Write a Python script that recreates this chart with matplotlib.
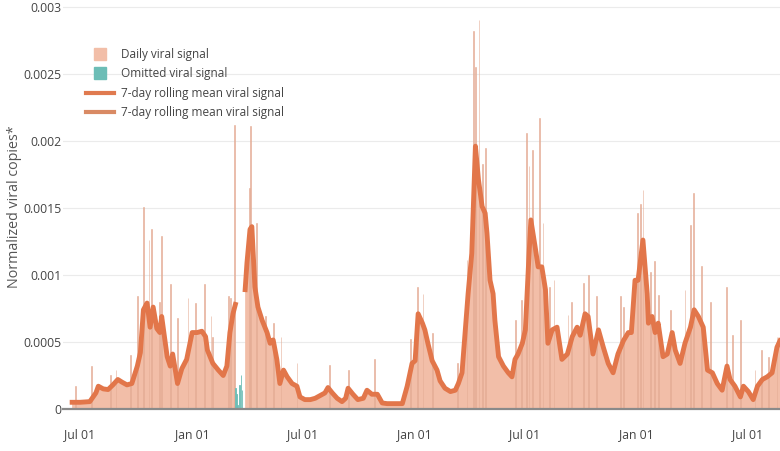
import numpy as np
import pandas as pd
import matplotlib
matplotlib.use('Agg')
import matplotlib.pyplot as plt
import matplotlib.dates as mdates
from matplotlib.lines import Line2D

plt.rcParams['font.family'] = ['Open Sans', 'DejaVu Sans']

# 7-day rolling mean (units of 1e-4), NaN = omitted period
mean_dates = [
    '2020-06-18', '2020-07-01', '2020-07-17', '2020-07-27', '2020-07-31', '2020-08-08',
    '2020-08-16', '2020-08-24', '2020-09-01', '2020-09-08', '2020-09-16', '2020-09-24',
    '2020-10-03', '2020-10-08', '2020-10-13', '2020-10-19', '2020-10-24', '2020-10-29',
    '2020-11-04', '2020-11-09', '2020-11-12', '2020-11-21', '2020-11-26', '2020-11-30',
    '2020-12-04', '2020-12-08', '2020-12-15', '2020-12-23', '2021-01-01', '2021-01-09',
    '2021-01-17', '2021-01-23', '2021-01-26', '2021-02-04', '2021-02-13', '2021-02-21',
    '2021-02-27', '2021-03-04', '2021-03-09', '2021-03-13', '2021-03-20', '2021-03-29',
    '2021-04-01', '2021-04-06', '2021-04-09', '2021-04-14', '2021-04-19', '2021-04-26',
    '2021-05-04', '2021-05-09', '2021-05-14', '2021-05-20', '2021-05-25', '2021-05-31',
    '2021-06-06', '2021-06-14', '2021-06-22', '2021-06-27', '2021-07-05', '2021-07-14',
    '2021-07-22', '2021-07-30', '2021-08-07', '2021-08-12', '2021-08-19', '2021-08-27',
    '2021-09-04', '2021-09-10', '2021-09-14', '2021-09-22', '2021-09-30', '2021-10-09',
    '2021-10-15', '2021-10-23', '2021-11-01', '2021-11-09', '2021-11-17', '2021-11-25',
    '2021-12-04', '2021-12-12', '2021-12-20', '2021-12-28', '2022-01-02', '2022-01-07',
    '2022-01-14', '2022-01-18', '2022-01-23', '2022-01-30', '2022-02-07', '2022-02-12',
    '2022-02-20', '2022-03-01', '2022-03-09', '2022-03-14', '2022-03-20', '2022-03-25',
    '2022-03-30', '2022-04-05', '2022-04-11', '2022-04-16', '2022-04-22', '2022-04-27',
    '2022-04-30', '2022-05-05', '2022-05-10', '2022-05-13', '2022-05-19', '2022-05-27',
    '2022-06-04', '2022-06-10', '2022-06-15', '2022-06-20', '2022-06-27', '2022-07-02',
    '2022-07-07', '2022-07-11', '2022-07-18', '2022-07-23', '2022-07-29', '2022-08-04',
    '2022-08-08', '2022-08-15', '2022-08-23', '2022-08-31', '2022-09-09', '2022-09-17',
    '2022-09-25', '2022-09-30', '2022-10-08', '2022-10-13', '2022-10-21', '2022-10-30',
    '2022-11-07', '2022-11-15', '2022-11-23', '2022-12-01', '2022-12-10', '2022-12-18',
    '2022-12-23', '2022-12-29', '2023-01-03', '2023-01-11', '2023-01-18', '2023-01-20',
    '2023-01-26', '2023-01-31', '2023-02-05', '2023-02-13', '2023-02-20', '2023-02-28',
    '2023-03-05', '2023-03-13', '2023-03-21', '2023-03-30', '2023-04-05', '2023-04-12',
    '2023-04-20', '2023-04-27', '2023-05-05', '2023-05-13', '2023-05-21', '2023-05-29',
    '2023-06-03', '2023-06-11', '2023-06-20', '2023-06-25', '2023-07-03', '2023-07-11',
    '2023-07-18', '2023-07-26', '2023-08-03', '2023-08-11', '2023-08-19', '2023-08-24',
]
mean_vals = [
    0.5, 0.5, 0.55, 1.2, 1.7, 1.5,
    1.45, 1.8, 2.2, 2.0, 1.8, 1.9,
    3.2, 4.2, 7.4, 7.9, 6.1, 7.6,
    6.0, 5.7, 6.9, 3.9, 3.2, 4.1,
    3.0, 1.9, 3.0, 3.7, 5.7, 5.7,
    5.8, 5.4, 4.4, 3.4, 2.9, 2.5,
    3.2, 5.7, 7.1, 7.8, np.nan, 8.9,
    10.9, 13.4, 13.6, 9.1, 7.6, 6.6,
    5.7, 4.9, 5.15, 3.7, 1.9, 2.9,
    2.4, 1.9, 1.7, 0.9, 0.7, 0.7,
    0.8, 1.0, 1.2, 1.6, 1.2, 0.8,
    0.55, 0.8, 1.55, 1.1, 0.7, 0.8,
    1.4, 1.1, 1.1, 0.45, 0.4, 0.4,
    0.4, 0.4, 1.7, 3.4, 3.6, 7.1,
    6.4, 5.9, 4.9, 3.6, 2.9, 2.1,
    1.55, 1.3, 1.4, 1.9, 2.7, 5.7,
    8.6, 11.6, 19.6, 17.1, 15.1, 14.6,
    13.1, 9.6, 8.6, 6.6, 3.9, 3.2,
    2.7, 2.4, 3.7, 4.1, 4.9, 5.9,
    10.6, 14.1, 12.1, 10.6, 10.6, 8.9,
    4.9, 5.9, 6.1, 3.7, 4.1, 5.4,
    6.1, 5.5, 7.1, 6.9, 4.1, 5.9,
    4.6, 3.4, 2.7, 4.1, 5.1, 5.7,
    5.7, 9.6, 9.6, 12.6, 8.6, 6.4,
    6.9, 5.7, 6.4, 3.9, 4.1, 5.7,
    4.4, 3.4, 4.9, 6.1, 7.4, 6.9,
    6.1, 2.9, 2.7, 1.9, 1.4, 3.2,
    2.2, 1.7, 0.9, 1.7, 1.3, 0.7,
    1.7, 2.2, 2.4, 2.7, 4.6, 5.1,
]

# daily readings that stand well above the rolling mean (units of 1e-4)
spike_dates = [
    '2020-06-24', '2020-07-20', '2020-08-20', '2020-08-29', '2020-09-22', '2020-10-03',
    '2020-10-13', '2020-10-22', '2020-10-26', '2020-11-08', '2020-11-12', '2020-11-26',
    '2020-12-08', '2020-12-25', '2021-01-07', '2021-01-21', '2021-02-01', '2021-02-04',
    '2021-03-02', '2021-03-05', '2021-03-11', '2021-04-05', '2021-04-07', '2021-04-17',
    '2021-05-02', '2021-05-14', '2021-05-27', '2021-06-22', '2021-08-14', '2021-09-15',
    '2021-10-27', '2021-12-25', '2022-01-06', '2022-01-15', '2022-01-31', '2022-03-13',
    '2022-03-28', '2022-04-08', '2022-04-11', '2022-04-17', '2022-04-23', '2022-04-28',
    '2022-06-16', '2022-06-26', '2022-07-04', '2022-07-08', '2022-07-14', '2022-07-25',
    '2022-07-31', '2022-08-11', '2022-08-18', '2022-09-10', '2022-09-16', '2022-10-05',
    '2022-10-14', '2022-10-27', '2022-12-05', '2022-12-10', '2023-01-02', '2023-01-07',
    '2023-01-11', '2023-01-23', '2023-01-30', '2023-02-05', '2023-02-25', '2023-03-21',
    '2023-03-30', '2023-04-04', '2023-04-17', '2023-05-02', '2023-05-28', '2023-06-07',
    '2023-06-20', '2023-07-14', '2023-07-25', '2023-08-05', '2023-08-19',
]
spike_vals = [
    1.7, 3.2, 2.5, 2.9, 4.0, 8.4,
    15.1, 12.6, 13.4, 8.0, 12.9, 9.3,
    6.8, 8.3, 7.9, 9.3, 6.9, 5.4,
    8.4, 8.3, 21.2, 16.5, 21.1, 13.9,
    6.9, 6.4, 5.4, 3.4, 3.3, 2.9,
    3.7, 5.2, 9.1, 8.6, 5.7, 3.4,
    11.1, 28.2, 25.5, 29.0, 18.3, 19.5,
    6.6, 8.1, 20.6, 18.1, 19.3, 21.7,
    13.9, 9.1, 9.6, 7.0, 8.0, 9.4,
    10.0, 8.4, 8.4, 7.6, 14.6, 15.3,
    16.3, 10.2, 11.0, 8.5, 7.4, 8.9,
    13.7, 16.1, 10.7, 8.0, 9.1, 5.5,
    6.6, 2.9, 4.4, 3.9, 5.4,
]

# omitted (excluded) daily readings
omit_dates = ['2021-03-13', '2021-03-15', '2021-03-17', '2021-03-20', '2021-03-22', '2021-03-24']
omit_vals = [1.6, 1.1, 0.3, 1.8, 2.5, 1.4]

scale = 1e-4
md = pd.to_datetime(mean_dates)
mv = np.array(mean_vals) * scale
sd = pd.to_datetime(spike_dates)
sv = np.array(spike_vals) * scale
od = pd.to_datetime(omit_dates)
ov = np.array(omit_vals) * scale

bar_c = '#f2bea8'
spike_c = '#e5ad96'
omit_c = '#6cbdb6'
line_c = '#e2764a'

fig = plt.figure(figsize=(7.8, 4.51), dpi=100)
ax = fig.add_axes([63 / 780, 42 / 451, 717 / 780, 409 / 451])

ax.fill_between(md, 0, mv, color=bar_c, linewidth=0, zorder=2)
ax.bar(sd, sv, width=1.2, color=spike_c, edgecolor=spike_c, linewidth=0.4, zorder=2)
ax.bar(od, ov, width=1.2, color=omit_c, edgecolor=omit_c, linewidth=0.6, zorder=3)
ax.plot(md, mv, color=line_c, linewidth=3.5, solid_joinstyle='round', zorder=4)

ax.set_xlim(pd.Timestamp('2020-06-03'), pd.Timestamp('2023-08-24'))
ax.set_ylim(0, 0.00305)

yt = [0, 0.0005, 0.001, 0.0015, 0.002, 0.0025, 0.003]
ax.set_yticks(yt)
ax.set_yticklabels(['0', '0.0005', '0.001', '0.0015', '0.002', '0.0025', '0.003'])
xt = pd.to_datetime(['2020-07-01', '2021-01-01', '2021-07-01', '2022-01-01',
                     '2022-07-01', '2023-01-01', '2023-07-01'])
ax.set_xticks(xt)
ax.xaxis.set_major_formatter(mdates.DateFormatter('%b %d'))

ax.tick_params(axis='y', length=0, pad=1, labelsize=8.8, colors='#444444')
ax.tick_params(axis='x', length=0, pad=14, labelsize=8.8, colors='#444444')
ax.grid(axis='y', color='#ebebeb', linewidth=0.8, zorder=0)
ax.set_axisbelow(True)
for s in ['top', 'right', 'left']:
    ax.spines[s].set_visible(False)
ax.spines['bottom'].set_color('#8a8a8a')
ax.spines['bottom'].set_linewidth(1.6)
ax.spines['bottom'].set_zorder(5)

fig.text(15 / 780, 1 - 207 / 451, 'Normalized viral copies*', rotation=90,
         ha='center', va='center', fontsize=10.3, color='#555555')

handles = [
    Line2D([], [], marker='s', linestyle='', markersize=9, color=bar_c),
    Line2D([], [], marker='s', linestyle='', markersize=9, color=omit_c),
    Line2D([], [], color='#e07a4f', linewidth=3),
    Line2D([], [], color='#d98a64', linewidth=3),
]
labels = ['Daily viral signal', 'Omitted viral signal',
          '7-day rolling mean viral signal', '7-day rolling mean viral signal']
leg = fig.legend(handles, labels, loc='upper left', bbox_to_anchor=(86 / 780, 1 - 48 / 451),
                 frameon=False, fontsize=8.5, handlelength=2.4, handletextpad=0.55,
                 labelspacing=0.55, borderpad=0, borderaxespad=0)
for t in leg.get_texts():
    t.set_color('#444444')

fig.savefig('out.png', dpi=100)
